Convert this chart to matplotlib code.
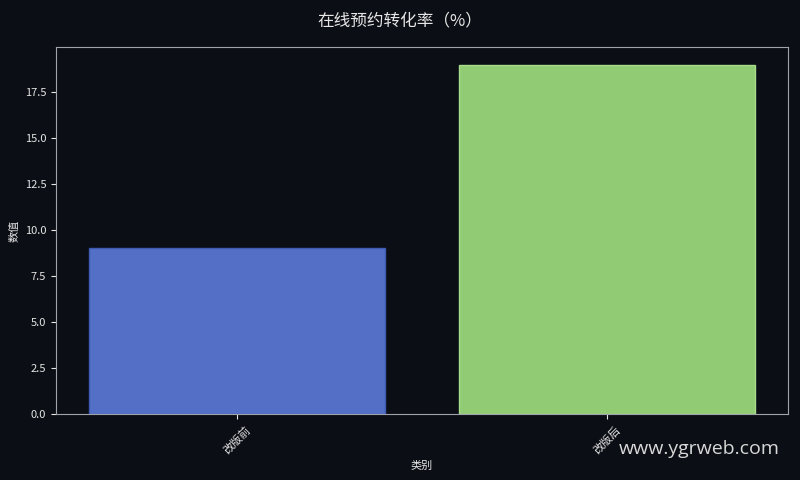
import matplotlib
matplotlib.use('Agg')
import matplotlib.pyplot as plt

plt.rcParams['font.family'] = ['Noto Sans CJK SC', 'DejaVu Sans']
plt.rcParams['axes.unicode_minus'] = False

categories = ['改版前', '改版后']
values = [9.0, 19.0]
colors = ['#5470c6', '#91cc75']
edge_colors = ['#3d5bb3', '#a6dc8a']

bg = '#0b0e14'
fg = '#e6e6e6'

fig = plt.figure(figsize=(8, 4.8), dpi=100, facecolor=bg)
ax = fig.add_axes([0.07, 0.1375, 0.915, 0.7645])
ax.set_facecolor(bg)

ax.bar(range(len(categories)), values, width=0.8, color=colors,
       edgecolor=edge_colors, linewidth=1)

ax.set_xticks(range(len(categories)))
ax.set_xticklabels(categories, rotation=45, fontsize=8, color=fg)
ax.tick_params(axis='y', labelsize=8, colors=fg)
ax.tick_params(axis='x', colors=fg)
for s in ax.spines.values():
    s.set_color('#a0a4aa')

ax.set_xlabel('类别', fontsize=8, color=fg)
ax.set_ylabel('数值', fontsize=8, color=fg)
fig.suptitle('在线预约转化率（%）', fontsize=12, color=fg, y=0.975)

fig.text(0.975, 0.065, 'www.ygrweb.com', fontsize=14, color='#d8d8d8',
         ha='right', va='center', family=['Open Sans', 'DejaVu Sans'])

fig.savefig('out.png', dpi=100, facecolor=bg)
